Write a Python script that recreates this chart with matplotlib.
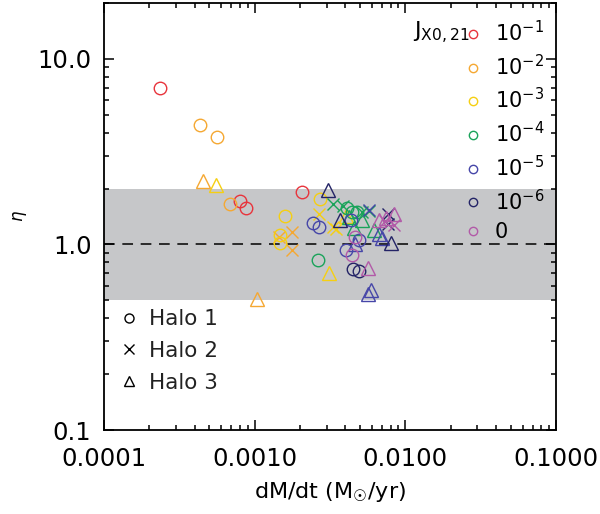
import matplotlib
matplotlib.use("Agg")
import matplotlib.pyplot as plt
from matplotlib.lines import Line2D
from matplotlib.ticker import FixedLocator, FixedFormatter, LogLocator, NullFormatter

# Accretion rate (Msun/yr), eta and halo index for each J_X0,21 level
j1_x = [2.35e-4, 7.96e-4, 8.71e-4, 2.07e-3]
j1_y = [6.98, 1.72, 1.57, 1.91]
j1_halo = [1, 1, 1, 1]

j2_x = [4.37e-4, 5.66e-4, 6.82e-4, 4.55e-4, 1.03e-3, 1.44e-3, 1.78e-3, 1.78e-3]
j2_y = [4.42, 3.81, 1.65, 2.19, 0.511, 1.10, 1.16, 0.93]
j2_halo = [1, 1, 1, 3, 3, 2, 2, 2]

j3_x = [1.60e-3, 1.48e-3, 1.48e-3, 2.72e-3, 2.67e-3, 3.30e-3, 3.44e-3, 5.52e-4, 3.10e-3, 4.05e-3]
j3_y = [1.43, 1.12, 1.016, 1.76, 1.46, 1.24, 1.21, 2.08, 0.70, 1.43]
j3_halo = [1, 1, 1, 1, 2, 2, 2, 3, 3, 3]

j4_x = [2.62e-3, 4.13e-3, 4.45e-3, 4.81e-3, 3.30e-3, 3.83e-3, 5.12e-3, 5.78e-3, 4.59e-3, 5.19e-3, 6.24e-3, 4.26e-3]
j4_y = [0.828, 1.58, 1.49, 1.49, 1.65, 1.62, 1.49, 1.52, 1.22, 1.36, 1.19, 1.41]
j4_halo = [1, 1, 1, 1, 2, 2, 2, 2, 3, 3, 3, 3]

j5_x = [2.43e-3, 2.67e-3, 4.36e-3, 4.95e-3, 4.05e-3, 5.78e-3, 6.73e-3, 7.05e-3, 4.66e-3, 5.62e-3, 5.93e-3]
j5_y = [1.30, 1.24, 1.35, 1.06, 0.93, 1.54, 1.14, 1.08, 1.00, 0.543, 0.566]
j5_halo = [1, 1, 1, 1, 1, 2, 3, 3, 3, 3, 3]

j6_x = [4.48e-3, 4.89e-3, 7.64e-3, 7.64e-3, 3.05e-3, 3.66e-3, 8.03e-3]
j6_y = [0.74, 0.716, 1.46, 1.29, 1.97, 1.36, 1.016]
j6_halo = [1, 1, 2, 2, 3, 3, 3]

j0_x = [4.66e-3, 4.44e-3, 8.45e-3, 7.38e-3, 5.62e-3, 6.73e-3, 7.48e-3, 8.45e-3]
j0_y = [1.09, 0.873, 1.27, 1.33, 0.746, 1.36, 1.38, 1.46]
j0_halo = [1, 1, 2, 2, 3, 3, 3, 3]

level_labels = [r"$10^{-1}$", r"$10^{-2}$", r"$10^{-3}$", r"$10^{-4}$",
                r"$10^{-5}$", r"$10^{-6}$", "0"]
level_colors = ["#e8343c", "#f5a832", "#f5cf12", "#1aa35a",
                "#4646a8", "#232366", "#b25aa8"]
halo_labels = ["Halo 1", "Halo 2", "Halo 3"]
halo_markers = {1: "o", 2: "x", 3: "^"}
halo_sizes = {1: 9, 2: 9, 3: 9.5}

x_ticks = [1e-4, 1e-3, 1e-2, 1e-1]
x_ticklabels = ["0.0001", "0.0010", "0.0100", "0.1000"]
y_ticks = [0.1, 1.0, 10.0]
y_ticklabels = ["0.1", "1.0", "10.0"]

groups = [(j1_x, j1_y, j1_halo), (j2_x, j2_y, j2_halo), (j3_x, j3_y, j3_halo),
          (j4_x, j4_y, j4_halo), (j5_x, j5_y, j5_halo), (j6_x, j6_y, j6_halo),
          (j0_x, j0_y, j0_halo)]

fig = plt.figure(figsize=(6.0, 5.14), dpi=100)
ax = fig.add_axes([104 / 600, 84 / 514, 452 / 600, 427 / 514])
ax.set_xscale("log")
ax.set_yscale("log")
ax.set_xlim(1e-4, 1e-1)
ax.set_ylim(0.1, 20.0)

ax.axhspan(0.5, 2.0, color="#c6c7c9", lw=0, zorder=0)
ax.axhline(1.0, color="black", lw=1.1, dashes=(7, 5), zorder=1)

for (xs, ys, hs), color in zip(groups, level_colors):
    for h in (1, 2, 3):
        px = [x for x, hh in zip(xs, hs) if hh == h]
        py = [y for y, hh in zip(ys, hs) if hh == h]
        if not px:
            continue
        ax.plot(px, py, ls="none", marker=halo_markers[h], ms=halo_sizes[h],
                mfc="none", mec=color, mew=1.0, zorder=3)

# axes styling
for sp in ax.spines.values():
    sp.set_linewidth(1.3)
ax.xaxis.set_major_locator(FixedLocator(x_ticks))
ax.xaxis.set_major_formatter(FixedFormatter(x_ticklabels))
ax.yaxis.set_major_locator(FixedLocator(y_ticks))
ax.yaxis.set_major_formatter(FixedFormatter(y_ticklabels))
ax.xaxis.set_minor_locator(LogLocator(base=10, subs=range(2, 10)))
ax.yaxis.set_minor_locator(LogLocator(base=10, subs=range(2, 10)))
ax.xaxis.set_minor_formatter(NullFormatter())
ax.yaxis.set_minor_formatter(NullFormatter())
ax.tick_params(which="both", direction="in", top=True, right=True,
               width=1.1, colors="black")
ax.tick_params(which="major", length=7)
ax.tick_params(which="minor", length=3.5)
ax.tick_params(axis="x", which="major", labelsize=17.5, pad=12)
ax.tick_params(axis="y", which="major", labelsize=17.5, pad=9)

ax.set_xlabel("dM/dt (M$_{\\mathrm{\u2609}}$/yr)", fontsize=16, labelpad=7)
ax.set_ylabel(r"$\eta$", fontsize=12, labelpad=6)

# J_X0,21 legend
level_handles = [Line2D([], [], ls="none", marker="o", ms=6, mfc="none",
                        mec=c, mew=1.0) for c in level_colors]
leg1 = ax.legend(level_handles, level_labels, loc="upper right",
                 bbox_to_anchor=(0.992, 0.98), frameon=False, fontsize=15,
                 handlelength=0.6, handletextpad=0.75, labelspacing=0.41,
                 borderaxespad=0.0)
ax.add_artist(leg1)
ax.text(0.684, 0.930, r"J$_{\rm X0,21}$", transform=ax.transAxes,
        fontsize=16, ha="left", va="center")

# halo legend
halo_handles = [Line2D([], [], ls="none", marker=halo_markers[h], ms=6.5,
                       mfc="none", mec="black", mew=1.0) for h in (1, 2, 3)]
ax.legend(halo_handles, halo_labels, loc="lower left",
          bbox_to_anchor=(0.022, 0.067), frameon=False, fontsize=15.5,
          handlelength=0.6, handletextpad=0.63, labelspacing=0.55,
          borderaxespad=0.0, labelcolor="#222222")

fig.savefig("out.png", dpi=100)
